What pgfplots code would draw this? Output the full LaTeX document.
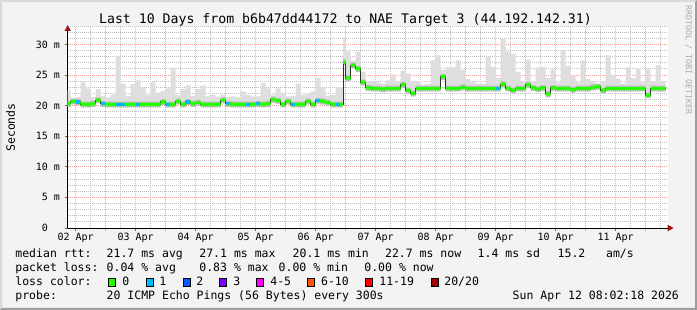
\documentclass[border=0pt]{standalone}
\usepackage{fontspec}
\setmainfont{DejaVu Sans Mono}
\usepackage{pgfplots}
\pgfplotsset{compat=1.18}
\usepackage{pgfplotstable}
\usepgfplotslibrary{fillbetween}
\usetikzlibrary{arrows.meta}
\tikzset{fill between/on layer=main}

\definecolor{bgc}{HTML}{F3F3F3}
\definecolor{shadeA}{HTML}{DADADA}
\definecolor{shadeB}{HTML}{9E9E9E}
\definecolor{mgrid}{HTML}{EE9C9C}
\definecolor{mingrid}{HTML}{C0C0C0}
\definecolor{smoke}{HTML}{DEDEDE}
\definecolor{smokeD}{HTML}{BEBEBE}
\definecolor{medc}{HTML}{202020}
\definecolor{lc0}{HTML}{26FF00}
\definecolor{lc1}{HTML}{00B8FF}
\definecolor{lc2}{HTML}{0059FF}
\definecolor{lc3}{HTML}{7E00FF}
\definecolor{lc4}{HTML}{FF00FF}
\definecolor{lc6}{HTML}{FF5500}
\definecolor{lc11}{HTML}{FF0000}
\definecolor{lc20}{HTML}{A10000}
\definecolor{arrowc}{HTML}{A01010}
\definecolor{wm}{HTML}{AAAAAA}

% h = hours since 02 Apr 00:00, m = median rtt (ms), hi = top of smoke (ms)
\pgfplotstableread{
h m hi
8 20.3 22.5
10 20.7 21.2
12 20.6 21.4
14 20.2 23.8
16 20.2 22.8
18 20.3 21.4
20 20.9 22.7
22 20.3 21.6
24 20.2 21.3
26 20.2 21.8
28 20.2 28.1
30 20.2 23.6
32 20.2 21.6
34 20.2 23.5
36 20.2 24.1
38 20.2 22.9
40 20.2 21.8
42 20.2 23.8
44 20.2 22.1
46 20.6 22.4
48 20.2 22.8
50 20.2 26.2
52 20.7 21.7
54 20.2 22.7
56 20.6 23.3
58 20.3 21.6
60 20.5 22.7
62 20.2 23.3
64 20.2 21.5
66 20.2 21.7
68 20.2 21.4
70 20.9 21.8
72 20.3 21.4
74 20.2 21.5
76 20.2 21.4
78 20.2 22.3
80 20.2 21.7
82 20.2 21.5
84 20.3 21.5
86 20.2 23.7
88 20.3 22.8
90 21.0 21.8
92 20.8 22.8
94 20.2 22.1
96 20.7 21.5
98 20.2 21.6
100 20.2 23.6
102 20.2 21.7
104 20.7 22.0
106 20.2 22.3
108 20.8 24.5
110 20.7 23.0
112 20.5 21.6
114 20.2 21.7
116 20.2 23.0
119 27.1 31.2
120 24.5 28.8
122 26.6 27.3
124 26.0 28.8
126 23.8 25.5
128 22.9 23.9
130 22.8 23.9
132 22.8 23.8
134 22.7 23.6
136 22.8 24.1
138 22.8 25.1
140 22.8 23.9
142 23.4 25.7
144 22.5 25.2
146 22.0 23.9
148 22.8 23.9
150 22.8 23.4
152 22.8 23.5
154 22.8 27.4
156 22.8 28.2
158 24.7 25.8
160 22.8 26.3
162 22.8 26.3
164 22.8 27.4
166 23.0 25.8
168 22.8 24.4
170 22.8 23.9
172 22.8 23.6
174 22.8 23.5
176 22.8 27.9
178 22.8 26.3
180 22.8 24.5
182 23.5 30.9
184 22.8 28.8
186 22.5 28.5
188 22.8 25.5
190 22.8 24.0
192 23.4 27.5
194 22.9 24.0
196 22.7 26.2
198 22.9 26.3
200 21.9 24.5
202 22.9 25.9
204 22.8 23.8
206 22.8 29.1
208 22.8 26.5
210 22.6 24.8
212 22.8 23.8
214 22.8 27.4
216 22.8 24.4
218 23.0 23.9
220 23.1 23.6
222 22.5 24.0
224 22.8 28.2
226 22.8 25.0
228 22.8 24.4
230 22.8 23.6
232 22.8 26.3
234 22.8 24.5
236 22.8 26.1
238 22.8 23.8
240 21.7 25.9
242 22.8 24.0
244 22.8 26.6
246 22.8 24.0
248 22.8 24.0
}\rtt

% median segments with 1/20 packet loss
\pgfplotstableread{
h m
12.25 20.6
13.75 20.6
nan nan
22.25 20.3
23.75 20.3
nan nan
28.25 20.2
31.75 20.2
nan nan
36.25 20.2
37.75 20.2
nan nan
48.25 20.2
49.75 20.2
nan nan
56.25 20.6
57.75 20.6
nan nan
72.25 20.3
73.75 20.3
nan nan
80.25 20.2
81.75 20.2
nan nan
84.25 20.3
85.75 20.3
nan nan
98.25 20.2
99.75 20.2
nan nan
108.25 20.8
109.75 20.8
nan nan
116.25 20.2
117.75 20.2
nan nan
180.25 22.8
181.75 22.8
}\lossone

\newcommand\lf{\fontsize{11.5}{13}\selectfont}
\newcommand\tf{\fontsize{10}{12}\selectfont}

\begin{document}%
\pagecolor{bgc}%
\begin{tikzpicture}
\path (0pt,0pt) rectangle (697pt,310pt);
\fill[shadeA] (0pt,0pt) -- (0pt,310pt) -- (697pt,310pt) -- (695pt,308pt) -- (2pt,308pt) -- (2pt,2pt) -- cycle;
\fill[shadeB] (0pt,0pt) -- (697pt,0pt) -- (697pt,310pt) -- (695pt,308pt) -- (695pt,2pt) -- (2pt,2pt) -- cycle;

\begin{axis}[
  at={(67.7pt,82pt)}, anchor=south west,
  scale only axis, width=600pt, height=202pt,
  xmin=8.8, xmax=248.8, ymin=0, ymax=33,
  axis lines=left,
  axis background/.style={fill=white},
  x axis line style={black, line width=0.9pt, -{Triangle[length=6pt,width=6pt,color=arrowc]}, shorten >=-6pt},
  y axis line style={black, line width=0.9pt, -{Triangle[length=6pt,width=6pt,color=arrowc]}, shorten >=-1pt},
  tick align=outside,
  major tick length=3pt, minor tick length=0pt,
  tick style={black!60, line width=0.6pt},
  ticklabel style={font=\tf},
  xtick={12,36,...,228},
  xticklabels={02 Apr,03 Apr,04 Apr,05 Apr,06 Apr,07 Apr,08 Apr,09 Apr,10 Apr,11 Apr},
  minor xtick={6,18,...,246},
  extra x ticks={24,48,...,240},
  extra x tick labels={},
  extra x tick style={grid=major, major grid style={mgrid, dash pattern=on 1pt off 1pt, line width=0.8pt}, tick style={mgrid}},
  ytick={0,5,...,30},
  yticklabels={0\hphantom{0m},5 m,10 m,15 m,20 m,25 m,30 m},
  minor ytick={1,2,3,4,6,7,8,9,11,12,13,14,16,17,18,19,21,22,23,24,26,27,28,29,31,32,33},
  extra y ticks={5,10,...,30},
  extra y tick labels={},
  extra y tick style={grid=major, major grid style={mgrid, dash pattern=on 1pt off 1pt, line width=0.8pt}},
  xmajorgrids=true, xminorgrids=true, ymajorgrids=false, yminorgrids=true,
  major grid style={mingrid, dash pattern=on 1pt off 1pt, line width=0.8pt},
  minor grid style={mingrid, dash pattern=on 1pt off 1pt, line width=0.8pt},
  xticklabel style={inner sep=0pt, anchor=base, yshift=-10pt},
  yticklabel style={inner sep=0pt, anchor=east, xshift=-4.5pt},
]
\addplot[draw=none, const plot, name path=H, forget plot] table[x=h, y=hi]{\rtt};
\addplot[draw=none, const plot, name path=L, forget plot] table[x=h, y expr=\thisrow{m}-0.5]{\rtt};
\addplot[smoke, draw=none] fill between[of=H and L];
\addplot[draw=none, const plot, name path=DH, forget plot] table[x=h, y expr=\thisrow{m}+0.45]{\rtt};
\addplot[smokeD, draw=none] fill between[of=DH and L];
\addplot[const plot, color=medc, line width=0.9pt] table[x=h, y=m]{\rtt};
\addplot[draw=none, const plot, name path=GH, forget plot] table[x=h, y expr=\thisrow{m}+0.27]{\rtt};
\addplot[draw=none, const plot, name path=GL, forget plot] table[x=h, y expr=\thisrow{m}-0.27]{\rtt};
\addplot[lc0, draw=none] fill between[of=GH and GL];
\addplot[lc1, line width=3.3pt, line cap=butt, unbounded coords=jump] table[x=h, y=m]{\lossone};
\end{axis}

% title and labels
\node[font=\fontsize{13.2}{15}\selectfont, anchor=base, inner sep=0pt] at (345.5pt,286.7pt) {Last 10 Days from b6b47dd44172 to NAE Target 3 (44.192.142.31)};
\node[font=\lf, rotate=90, inner sep=0pt] at (10.5pt,182.5pt) {Seconds};
\node[font=\fontsize{8.3}{10}\selectfont, rotate=-90, inner sep=0pt, text=wm] at (688.5pt,250pt) {RRDTOOL / TOBI OETIKER};

% legend
\begin{scope}[every node/.style={font=\lf, anchor=base west, inner sep=0pt}]
\node at (15.2pt,52pt) {median rtt:};
\node at (106.5pt,52pt) {21.7 ms avg};
\node at (199.2pt,52pt) {27.1 ms max};
\node at (292.5pt,52pt) {20.1 ms min};
\node at (384.9pt,52pt) {22.7 ms now};
\node at (477.5pt,52pt) {1.4 ms sd};
\node at (557.5pt,52pt) {15.2};
\node at (605.9pt,52pt) {am/s};

\node at (15.2pt,38pt) {packet loss:};
\node at (106.5pt,38pt) {0.04 \% avg};
\node at (199.2pt,38pt) {0.83 \% max};
\node at (278.5pt,38pt) {0.00 \% min};
\node at (364.2pt,38pt) {0.00 \% now};

\node at (15.2pt,24pt) {loss color:};
\node at (122.2pt,24pt) {0};
\node at (159.2pt,24pt) {1};
\node at (196.2pt,24pt) {2};
\node at (233.2pt,24pt) {3};
\node at (270.2pt,24pt) {4-5};
\node at (320.9pt,24pt) {6-10};
\node at (379.2pt,24pt) {11-19};
\node at (444.2pt,24pt) {20/20};

\node at (15.2pt,10pt) {probe:};
\node at (106.5pt,10pt) {20 ICMP Echo Pings (56 Bytes) every 300s};
\node at (512.5pt,10pt) {Sun Apr 12 08:02:18 2026};
\end{scope}

\begin{scope}[line width=0.9pt]
\foreach \xx/\cc in {108.8/lc0,146.2/lc1,183.2/lc2,219.8/lc3,256.5/lc4,307.2/lc6,365.5/lc11,431.2/lc20}{
  \filldraw[fill=\cc, draw=black] (\xx pt,23.8pt) rectangle ++(7pt,7.5pt);
}
\end{scope}

\pgfresetboundingbox
\path (0pt,0pt) rectangle (697pt,310pt);
\end{tikzpicture}%
\end{document}
